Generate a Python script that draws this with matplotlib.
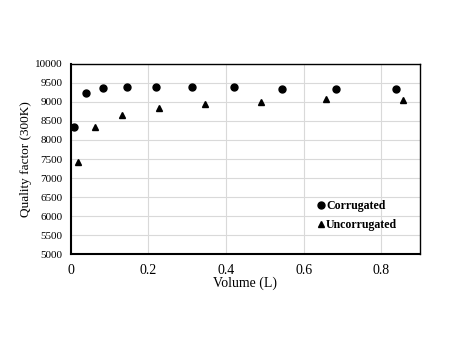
import matplotlib
matplotlib.use("Agg")
from matplotlib import pyplot as plt

plt.rcParams['font.family'] = ['Liberation Serif', 'DejaVu Serif']

vol_corr = [0.009, 0.040, 0.084, 0.146, 0.220, 0.313, 0.420, 0.544, 0.684, 0.838]
q_corr = [8340, 9235, 9365, 9395, 9395, 9395, 9395, 9335, 9335, 9335]
vol_unc = [0.019, 0.063, 0.132, 0.226, 0.345, 0.489, 0.659, 0.855]
q_unc = [7430, 8335, 8665, 8840, 8945, 9000, 9070, 9040]

fig = plt.figure(figsize=(4.57, 3.53), dpi=100)
ax = fig.add_axes([0.155, 0.280, 0.764, 0.539])

ax.plot(vol_corr, q_corr, 'o', color='black', ms=5, label='Corrugated')
ax.plot(vol_unc, q_unc, '^', color='black', ms=5, label='Uncorrugated')

ax.set_xlim(0, 0.9)
ax.set_ylim(5000, 10000)
ax.set_xticks([0, 0.2, 0.4, 0.6, 0.8])
ax.set_xticklabels(['0', '0.2', '0.4', '0.6', '0.8'])
ax.set_yticks(range(5000, 10001, 500))
ax.grid(True, color='#d9d9d9', lw=0.8)
ax.set_axisbelow(True)
ax.tick_params(length=0)
ax.tick_params(axis='y', labelsize=8, pad=6)
ax.tick_params(axis='x', labelsize=10, pad=7)
for s in ax.spines.values():
    s.set_color('black')
    s.set_linewidth(1.0)
ax.spines['left'].set_linewidth(1.5)
ax.spines['bottom'].set_linewidth(1.5)

ax.set_xlabel('Volume (L)', fontsize=10, labelpad=0)
ax.set_ylabel('Quality factor (300K)', fontsize=9.5, labelpad=2)

ax.legend(loc='lower right', bbox_to_anchor=(0.965, 0.065), frameon=False,
          prop={'weight': 'bold', 'size': 8.6}, handletextpad=-0.2,
          handlelength=1.2, labelspacing=0.55)

fig.savefig('out.png', dpi=100)
